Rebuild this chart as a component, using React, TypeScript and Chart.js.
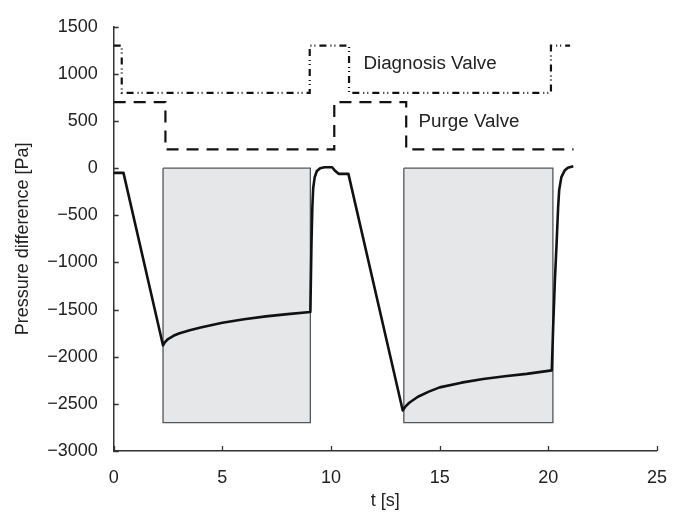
import React, { useEffect, useRef } from "react";
import { Chart, registerables } from "chart.js";

Chart.register(...registerables);

// Pressure difference trace
const timeS = [0, 0.45, 2.27, 2.35, 2.5, 2.75, 3.0, 3.5, 4.0, 5.0, 6.0, 7.0, 8.0, 9.05, 9.1, 9.14, 9.18, 9.25, 9.35, 9.5, 9.7, 10.05, 10.2, 10.35, 10.8, 13.3, 13.4, 13.6, 14.0, 14.5, 15.0, 16.0, 17.0, 18.0, 19.0, 20.16, 20.22, 20.3, 20.38, 20.45, 20.5, 20.6, 20.75, 20.9, 21.15];
const pressurePa = [-50, -50, -1880, -1848, -1812, -1778, -1754, -1718, -1690, -1640, -1602, -1572, -1548, -1525, -800, -420, -210, -95, -30, 0, 10, 10, -30, -60, -60, -2570, -2535, -2488, -2425, -2370, -2325, -2275, -2237, -2207, -2182, -2145, -1700, -1200, -800, -420, -230, -95, -25, 5, 20];

// Diagnosis valve switching (time, level)
const diagTimes = [0, 0.37, 9.02, 10.83, 20.12, 21.0];
const diagLevels = [1300, 800, 1300, 800, 1300, 1300];

// Purge valve switching (time, level)
const purgeTimes = [0, 2.38, 10.15, 13.46, 21.16];
const purgeLevels = [700, 200, 700, 200, 200];

// Grey shaded phases
const rectStart = [2.27, 13.35];
const rectEnd = [9.05, 20.21];
const rectTop = [0, 0];
const rectBottom = [-2700, -2700];

// Text labels
const labelTexts = ["Diagnosis Valve", "Purge Valve"];
const labelX = [11.49, 14.03];
const labelY = [1112, 492];

// Axis ticks
const xMin = 0, xMax = 25, xStep = 5;
const yMin = -3000, yMax = 1500, yStep = 500;

const FONT = "'Liberation Sans', Arial, Helvetica, sans-serif";
const TEXT = "#222";
const AXIS = "#333";

const innerTicks = {
  id: "innerTicks",
  afterDraw(chart: any) {
    const { ctx, chartArea, scales } = chart;
    ctx.save();
    ctx.strokeStyle = AXIS;
    ctx.lineWidth = 1.3;
    ctx.beginPath();
    scales.x.ticks.forEach((t: any) => {
      const px = Math.round(scales.x.getPixelForValue(t.value)) + 0.5;
      ctx.moveTo(px, chartArea.bottom);
      ctx.lineTo(px, chartArea.bottom - 5);
    });
    scales.y.ticks.forEach((t: any) => {
      const py = Math.round(scales.y.getPixelForValue(t.value)) + 0.5;
      ctx.moveTo(chartArea.left, py);
      ctx.lineTo(chartArea.left + 5, py);
    });
    ctx.stroke();
    ctx.restore();
  },
};

const textLabels = {
  id: "textLabels",
  afterDatasetsDraw(chart: any) {
    const { ctx, scales } = chart;
    ctx.save();
    ctx.fillStyle = TEXT;
    ctx.font = `18.8px ${FONT}`;
    ctx.textAlign = "left";
    ctx.textBaseline = "middle";
    labelTexts.forEach((txt, i) => {
      ctx.fillText(txt, scales.x.getPixelForValue(labelX[i]), scales.y.getPixelForValue(labelY[i]));
    });
    ctx.restore();
  },
};

function stepPoints(times: number[], levels: number[]) {
  return times.map((t, i) => ({ x: t, y: levels[i] }));
}

export default function App() {
  const ref = useRef<HTMLCanvasElement | null>(null);
  useEffect(() => {
    if (!ref.current) return;
    const datasets: any[] = [];
    datasets.push({
      data: timeS.map((t, i) => ({ x: t, y: pressurePa[i] })),
      borderColor: "#111",
      borderWidth: 2.6,
      pointRadius: 0,
      fill: false,
      tension: 0,
      borderJoinStyle: "round",
      order: 0,
    });
    datasets.push({
      data: stepPoints(diagTimes, diagLevels),
      borderColor: "#111",
      borderWidth: 2.2,
      borderDash: [7, 4, 1, 3, 1, 4],
      stepped: "before",
      pointRadius: 0,
      fill: false,
      order: 1,
    });
    datasets.push({
      data: stepPoints(purgeTimes, purgeLevels),
      borderColor: "#111",
      borderWidth: 2.2,
      borderDash: [12, 8],
      stepped: "before",
      pointRadius: 0,
      fill: false,
      order: 1,
    });
    rectStart.forEach((s, i) => {
      datasets.push({
        data: [
          { x: s, y: rectTop[i] },
          { x: rectEnd[i], y: rectTop[i] },
          { x: rectEnd[i], y: rectBottom[i] },
          { x: s, y: rectBottom[i] },
          { x: s, y: rectTop[i] },
        ],
        borderColor: "#555",
        borderWidth: 1.3,
        pointRadius: 0,
        fill: false,
        order: 2,
      });
      datasets.push({
        data: [
          { x: s, y: rectTop[i] },
          { x: rectEnd[i], y: rectTop[i] },
        ],
        borderWidth: 0,
        borderColor: "rgba(0,0,0,0)",
        backgroundColor: "#e6e7e9",
        pointRadius: 0,
        fill: { value: rectBottom[i] },
        order: 3,
      });
    });

    const chart = new Chart(ref.current, {
      type: "line",
      data: { datasets },
      options: {
        animation: false,
        responsive: false,
        layout: { padding: { left: 0, top: 19.5, right: 22.4, bottom: 0 } },
        plugins: { legend: { display: false }, tooltip: { enabled: false } },
        scales: {
          x: {
            type: "linear",
            min: xMin,
            max: xMax,
            afterFit: (s: any) => { s.height = 65; },
            ticks: {
              stepSize: xStep,
              padding: 16,
              color: TEXT,
              font: { family: FONT, size: 18 },
              maxRotation: 0,
            },
            grid: { drawOnChartArea: false, drawTicks: false },
            border: { display: true, color: AXIS, width: 1.5 },
            title: {
              display: true,
              text: "t [s]",
              color: TEXT,
              font: { family: FONT, size: 18 },
              padding: { top: 0, bottom: 4 },
            },
          },
          y: {
            type: "linear",
            min: yMin,
            max: yMax,
            afterFit: (s: any) => { s.width = 113.7; },
            ticks: {
              stepSize: yStep,
              padding: 16,
              color: TEXT,
              font: { family: FONT, size: 18 },
              callback: (v: any) => String(v).replace("-", "\u2212"),
            },
            grid: { drawOnChartArea: false, drawTicks: false },
            border: { display: true, color: AXIS, width: 1.5 },
            title: {
              display: true,
              text: "Pressure difference [Pa]",
              color: TEXT,
              font: { family: FONT, size: 18 },
              padding: { top: 12, bottom: 0 },
            },
          },
        },
      },
      plugins: [innerTicks, textLabels],
    });
    return () => chart.destroy();
  }, []);

  return (
    <div style={{ position: "absolute", left: 0, top: 0, width: 683, height: 516, background: "#fff" }}>
      <canvas ref={ref} width={683} height={516} />
    </div>
  );
}
